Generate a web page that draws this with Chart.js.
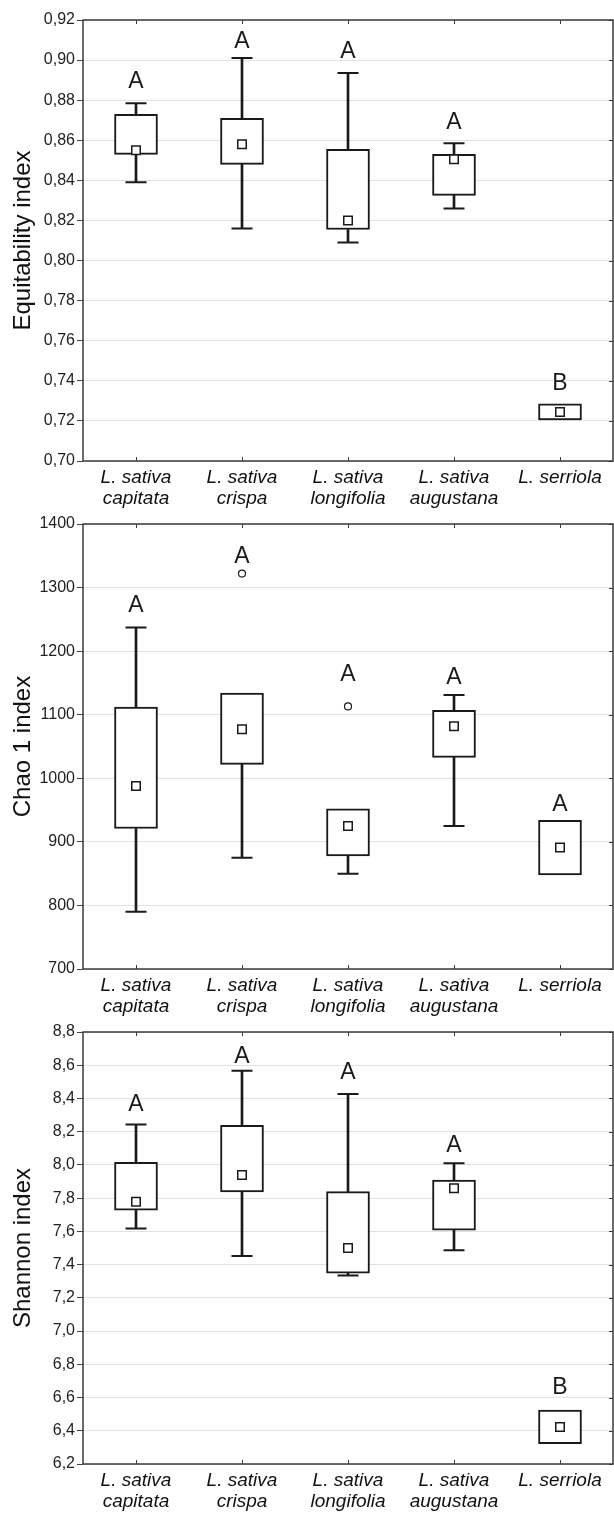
<!DOCTYPE html>
<html>
<head>
<meta charset="utf-8">
<script src="https://cdn.jsdelivr.net/npm/chart.js@4.4.0/dist/chart.umd.min.js"></script>
<style>
body { margin: 0; background: #fff; width: 614px; height: 1515px; position: relative; overflow: hidden; }
.panel { position: absolute; left: 0; width: 614px; }
</style>
</head>
<body>
<div class="panel" style="top:0;height:515px"><canvas id="eqChart"></canvas></div>
<div class="panel" style="top:504px;height:519px"><canvas id="chaoChart"></canvas></div>
<div class="panel" style="top:1012px;height:503px"><canvas id="shChart"></canvas></div>
<script>
const categories = [['L. sativa', 'capitata'], ['L. sativa', 'crispa'], ['L. sativa', 'longifolia'], ['L. sativa', 'augustana'], 'L. serriola'];
const groupLetters = ['A', 'A', 'A', 'A', 'B'];
const chaoLetters = ['A', 'A', 'A', 'A', 'A'];

// Equitability
const eqMin = [0.839, 0.816, 0.809, 0.826, 0.7205];
const eqQ1 = [0.853, 0.848, 0.8155, 0.8325, 0.7205];
const eqMedian = [0.855, 0.858, 0.820, 0.8505, 0.7245];
const eqQ3 = [0.873, 0.871, 0.8555, 0.853, 0.7285];
const eqMax = [0.8785, 0.901, 0.8935, 0.8585, 0.7285];
const eqOutliers = [null, null, null, null, null];
const eqLetterY = [0.889, 0.909, 0.904, 0.869, 0.7385];
const eqTicks = [0.70, 0.72, 0.74, 0.76, 0.78, 0.80, 0.82, 0.84, 0.86, 0.88, 0.90, 0.92];

// Chao 1
const chaoMin = [790, 875, 850, 925, 848];
const chaoQ1 = [921, 1022, 878, 1033, 848];
const chaoMedian = [988, 1077, 925, 1082, 891];
const chaoQ3 = [1112, 1134, 952, 1107, 934];
const chaoMax = [1237, 1134, 952, 1131, 934];
const chaoOutliers = [null, 1322, 1113, null, null];
const chaoLetterY = [1272, 1348, 1163, 1158, 958];
const chaoTicks = [700, 800, 900, 1000, 1100, 1200, 1300, 1400];

// Shannon
const shMin = [7.618, 7.452, 7.334, 7.486, 6.323];
const shQ1 = [7.727, 7.837, 7.348, 7.608, 6.323];
const shMedian = [7.779, 7.939, 7.50, 7.859, 6.423];
const shQ3 = [8.016, 8.238, 7.839, 7.909, 6.525];
const shMax = [8.244, 8.567, 8.427, 8.010, 6.525];
const shOutliers = [null, null, null, null, null];
const shLetterY = [8.363, 8.65, 8.553, 8.118, 6.658];
const shTicks = [6.2, 6.4, 6.6, 6.8, 7.0, 7.2, 7.4, 7.6, 7.8, 8.0, 8.2, 8.4, 8.6, 8.8];

const ink = '#1a1a1a';
const family = '"Liberation Sans", Arial, sans-serif';

// frame round the plot plus the small inner ticks on top, right and bottom
const framePlugin = {
    id: 'frame',
    beforeDatasetsDraw(chart) {
        const { ctx, chartArea: a } = chart;
        const xs = chart.scales.x, ys = chart.scales.y;
        ctx.save();
        ctx.strokeStyle = '#3a3a3a';
        ctx.lineWidth = 1.5;
        ctx.strokeRect(a.left, a.top, a.right - a.left, a.bottom - a.top);
        ctx.lineWidth = 1;
        ctx.beginPath();
        xs.ticks.forEach((t, i) => {
            const px = Math.round(xs.getPixelForTick(i)) + 0.5;
            ctx.moveTo(px, a.top);
            ctx.lineTo(px, a.top + 4);
            ctx.moveTo(px, a.bottom);
            ctx.lineTo(px, a.bottom - 4);
        });
        ys.ticks.forEach(t => {
            const py = Math.round(ys.getPixelForValue(t.value)) + 0.5;
            ctx.moveTo(a.right, py);
            ctx.lineTo(a.right - 4, py);
        });
        ctx.stroke();
        ctx.restore();
    }
};

const lettersPlugin = {
    id: 'letters',
    afterDatasetsDraw(chart, args, opts) {
        const ctx = chart.ctx;
        const xs = chart.scales.x, ys = chart.scales.y;
        ctx.save();
        ctx.fillStyle = ink;
        ctx.font = `23px ${family}`;
        ctx.textAlign = 'center';
        ctx.textBaseline = 'middle';
        opts.text.forEach((t, i) => {
            ctx.fillText(t, xs.getPixelForValue(i), ys.getPixelForValue(opts.y[i]));
        });
        ctx.restore();
    }
};

function buildChart(id, p) {
    // whiskers only where they stick out of the box
    const upperWhisker = p.max.map((v, i) => v > p.q3[i] ? [p.q3[i], v] : null);
    const lowerWhisker = p.min.map((v, i) => v < p.q1[i] ? [v, p.q1[i]] : null);
    const boxes = p.q1.map((v, i) => [v, p.q3[i]]);
    const capTop = p.max.map((v, i) => v > p.q3[i] ? v : null);
    const capBottom = p.min.map((v, i) => v < p.q1[i] ? v : null);

    const whiskerSet = data => ({ data: data, backgroundColor: ink, borderWidth: 0, barThickness: 2, grouped: false, order: 4 });
    const pointSet = (data, style, radius, width, order) => ({
        type: 'line', data: data, showLine: false, pointStyle: style,
        pointRadius: radius, pointHoverRadius: radius, pointBorderWidth: width,
        pointBorderColor: ink, pointBackgroundColor: '#fff', borderColor: ink, order: order
    });

    return new Chart(document.getElementById(id), {
        type: 'bar',
        data: {
            labels: categories,
            datasets: [
                whiskerSet(upperWhisker),
                whiskerSet(lowerWhisker),
                pointSet(capTop, 'line', 10.5, 2, 3),
                pointSet(capBottom, 'line', 10.5, 2, 3),
                { data: boxes, backgroundColor: '#fff', borderColor: ink, borderWidth: 2, borderSkipped: false, barThickness: 43, grouped: false, order: 2 },
                pointSet(p.median, 'rect', 6, 1.5, 1),
                pointSet(p.outliers, 'circle', 3.5, 1.2, 1)
            ]
        },
        options: {
            responsive: true,
            maintainAspectRatio: false,
            animation: false,
            layout: { autoPadding: false, padding: { top: 20, right: 1, left: 0, bottom: 0 } },
            plugins: {
                legend: { display: false },
                tooltip: { enabled: false },
                letters: { text: p.letters, y: p.letterY }
            },
            scales: {
                x: {
                    grid: { display: false, drawTicks: false },
                    border: { display: false },
                    ticks: { font: { family: family, size: 19, style: 'italic', lineHeight: 1.1 }, color: '#111', padding: 6, maxRotation: 0, autoSkip: false },
                    afterFit(s) {
                        s.height = p.xHeight;
                        s.paddingLeft = 0;
                        s.paddingRight = 0;
                    }
                },
                y: {
                    min: p.ticks[0],
                    max: p.ticks[p.ticks.length - 1],
                    afterBuildTicks(s) { s.ticks = p.ticks.map(v => ({ value: v })); },
                    grid: { color: '#e2e2e2', lineWidth: 1, tickColor: '#444', tickLength: 6 },
                    border: { display: false },
                    ticks: {
                        font: { family: family, size: 16 }, color: '#222', padding: 2,
                        callback: v => v.toFixed(p.decimals).replace('.', ',')
                    },
                    title: { display: true, text: p.title, font: { family: family, size: 24 }, color: '#111', padding: { top: 9, bottom: 0 } },
                    afterFit(s) { s.width = 83; }
                }
            }
        },
        plugins: [framePlugin, lettersPlugin]
    });
}

buildChart('eqChart', {
    min: eqMin, q1: eqQ1, median: eqMedian, q3: eqQ3, max: eqMax, outliers: eqOutliers,
    letters: groupLetters, letterY: eqLetterY, ticks: eqTicks, decimals: 2,
    title: 'Equitability index', xHeight: 54
});
buildChart('chaoChart', {
    min: chaoMin, q1: chaoQ1, median: chaoMedian, q3: chaoQ3, max: chaoMax, outliers: chaoOutliers,
    letters: chaoLetters, letterY: chaoLetterY, ticks: chaoTicks, decimals: 0,
    title: 'Chao 1 index', xHeight: 54
});
buildChart('shChart', {
    min: shMin, q1: shQ1, median: shMedian, q3: shQ3, max: shMax, outliers: shOutliers,
    letters: groupLetters, letterY: shLetterY, ticks: shTicks, decimals: 1,
    title: 'Shannon index', xHeight: 51
});
</script>
</body>
</html>
